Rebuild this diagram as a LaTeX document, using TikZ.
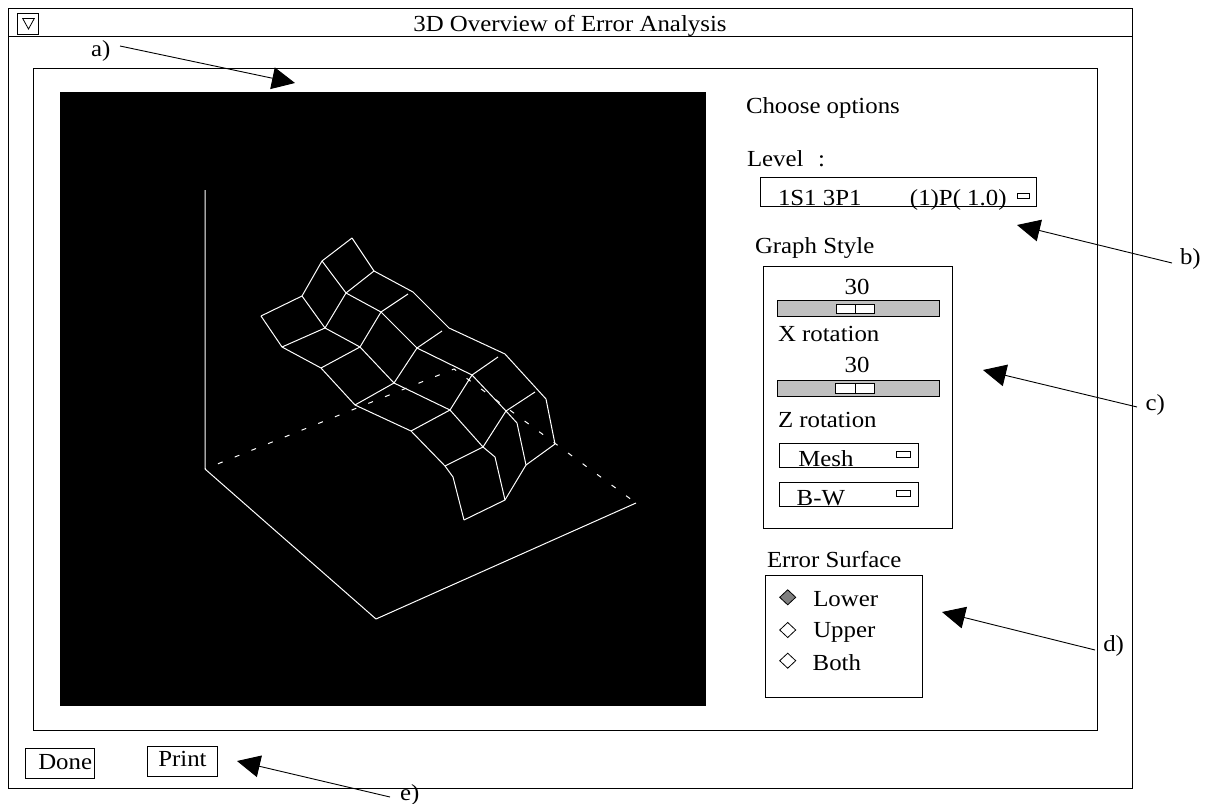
\documentclass[tikz,border=0pt]{standalone}
\usepackage{fontspec}
\setmainfont{Liberation Serif}[FakeStretch=1.08]
\usetikzlibrary{arrows.meta}
\definecolor{trough}{HTML}{C0C0C0}
\definecolor{radioon}{HTML}{7F7F7F}
\begin{document}
\begin{tikzpicture}[x=1pt,y=-1pt,
  every node/.style={inner sep=0pt,outer sep=0pt},
  lbl/.style={font=\fontsize{23}{26}\selectfont,anchor=base west},
  clbl/.style={font=\fontsize{23}{26}\selectfont,anchor=base},
  frame/.style={draw=black,line width=1pt},
  rectbox/.style={draw=black,line width=1pt,anchor=north west},
  troughbox/.style={rectbox,fill=trough},
  thumbbox/.style={rectbox,fill=white},
  minibtn/.style={rectbox,fill=white,line width=0.8pt},
  wire/.style={draw=white,line width=1pt,line join=round},
  floorhidden/.style={draw=white,line width=1pt,dash pattern=on 5pt off 13pt,dash phase=-14pt},
  callout/.style={draw=black,line width=0.9pt,-{Triangle[length=23pt,width=22pt]}},
  radiobtn/.pic={\path[draw=black,line width=0.8pt,pic actions] (-8,0) -- (0,-7.5) -- (8,0) -- (0,7.5) -- cycle;}
]
\useasboundingbox (0,0) rectangle (1212,803);
\fill[white] (0,0) rectangle (1212,803);

% window frame and title bar
\draw[frame] (8,8) rectangle (1132,788);
\draw[frame] (8,36) -- (1132,36);
\node[rectbox,minimum width=21pt,minimum height=21pt] (menu) at (17.5,13.5) {};
\draw[line width=0.8pt] (22.7,18.5) -- (34.3,18.5) -- (28.5,29) -- cycle;
\node[clbl] (title) at (570,31) {3D Overview of Error Analysis};

% main panel
\draw[frame] (33.5,68.5) rectangle (1097.5,730);

% plot area
\fill[black] (60,92) rectangle (706,706);
\draw[wire] (205,190) -- (205,469) -- (376,619) -- (636,503);
\draw[floorhidden] (205,469) -- (454,369) -- (636,503);

% surface mesh: rows
\draw[wire] (261,316) -- (302,296) -- (322,261) -- (352,238);
\draw[wire] (282,347) -- (325,328) -- (346,293) -- (374,271);
\draw[wire] (321,368) -- (360,347) -- (381,312) -- (408,294);
\draw[wire] (355,405) -- (394,383) -- (417,348) -- (442,331);
\draw[wire] (411,431) -- (450,410) -- (472,375) -- (498,357);
\draw[wire] (445,466) -- (483,447) -- (506,411) -- (535,392);
\draw[wire] (464,520) -- (505,500) -- (526,465) -- (555,444);
% surface mesh: columns
\draw[wire] (261,316) -- (282,347) -- (321,368) -- (355,405) -- (411,431) -- (445,466) -- (453,477) -- (464,520);
\draw[wire] (302,296) -- (325,328) -- (360,347) -- (394,383) -- (450,410) -- (483,447) -- (495,457) -- (505,500);
\draw[wire] (322,261) -- (346,293) -- (381,312) -- (417,348) -- (472,375) -- (506,411) -- (517,423) -- (526,465);
\draw[wire] (352,238) -- (374,271) -- (413,292) -- (449,328) -- (505,354) -- (546,399) -- (555,444);

% options
\node[lbl] (choose) at (746,113) {Choose options};
\node[lbl] (level) at (747,166) {Level\hspace{14.5pt}:};
\node[rectbox,minimum width=276pt,minimum height=28.7pt] (leveldd) at (760,177.3) {};
\node[lbl] (leveltxt) at (778,205) {\makebox[132pt][l]{1S1 3P1}(1)P( 1.0)};
\node[minibtn,minimum width=12pt,minimum height=5pt] (levelbtn) at (1017.3,193.3) {};

% graph style group
\node[lbl] (gslbl) at (755,253) {Graph Style};
\node[rectbox,minimum width=189pt,minimum height=261.5pt] (gsbox) at (763.5,266.5) {};
\node[clbl] (xval) at (857,294) {30};
\node[troughbox,minimum width=161.6pt,minimum height=16pt] (xslider) at (777.7,300.7) {};
\node[thumbbox,minimum width=38pt,minimum height=9.3pt] (xthumb) at (836,304) {};
\draw[line width=1pt] (xthumb.north) -- (xthumb.south);
\node[lbl] (xrot) at (778,341) {X rotation};
\node[clbl] (zval) at (857,372) {30};
\node[troughbox,minimum width=161.6pt,minimum height=16pt] (zslider) at (777.7,380.7) {};
\node[thumbbox,minimum width=38.6pt,minimum height=10pt] (zthumb) at (835.7,383.3) {};
\draw[line width=1pt] (zthumb.north) -- (zthumb.south);
\node[lbl] (zrot) at (778,427) {Z rotation};
\node[rectbox,minimum width=139.4pt,minimum height=24.4pt] (meshdd) at (779.3,443.3) {};
\node[lbl] (meshtxt) at (798.3,466) {Mesh};
\node[minibtn,minimum width=14pt,minimum height=5.6pt] (meshbtn) at (896,451.7) {};
\node[rectbox,minimum width=139.4pt,minimum height=24.4pt] (bwdd) at (779.3,482.3) {};
\node[lbl] (bwtxt) at (796.7,505) {B-W};
\node[minibtn,minimum width=14pt,minimum height=5.6pt] (bwbtn) at (896,490.7) {};

% error surface group
\node[lbl] (eslbl) at (767,567) {Error Surface};
\node[rectbox,minimum width=156.6pt,minimum height=122.7pt] (esbox) at (765.7,575) {};
\pic[fill=radioon] at (787.7,597.3) {radiobtn};
\pic[fill=white] at (787.7,630) {radiobtn};
\pic[fill=white] at (787.7,660.7) {radiobtn};
\node[lbl] (lower) at (813.3,606.7) {Lower};
\node[lbl] (upper) at (813.3,637) {Upper};
\node[lbl] (both) at (812.7,670) {Both};

% buttons
\node[rectbox,minimum width=68.6pt,minimum height=30pt] (donebtn) at (25.7,748) {};
\node[lbl] (donetxt) at (38.3,769) {Done};
\node[rectbox,minimum width=70pt,minimum height=30pt] (printbtn) at (147,746.7) {};
\node[lbl] (printtxt) at (158.3,766.7) {Print};

% callouts
\node[lbl] (la) at (91,56) {a)};
\node[lbl] (lb) at (1180,264) {b)};
\node[lbl] (lc) at (1145.7,410.7) {c)};
\node[lbl] (ld) at (1103.3,651.7) {d)};
\node[lbl] (le) at (400,800) {e)};
\coordinate (a-tail) at (120,46);   \coordinate (a-tip) at (295,83);
\coordinate (b-tail) at (1172,263); \coordinate (b-tip) at (1017,225);
\coordinate (c-tail) at (1137,407); \coordinate (c-tip) at (983,370);
\coordinate (d-tail) at (1095,650); \coordinate (d-tip) at (942,612);
\coordinate (e-tail) at (390,797);  \coordinate (e-tip) at (237,761);
\draw[callout] (a-tail) -- (a-tip);
\draw[callout] (b-tail) -- (b-tip);
\draw[callout] (c-tail) -- (c-tip);
\draw[callout] (d-tail) -- (d-tip);
\draw[callout] (e-tail) -- (e-tip);
\end{tikzpicture}
\end{document}
